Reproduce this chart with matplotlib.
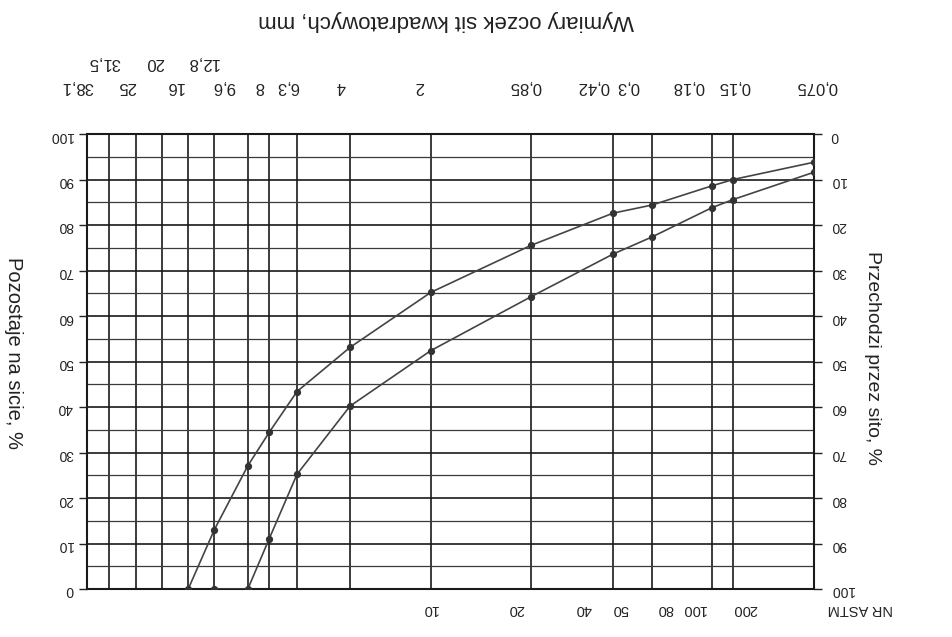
import matplotlib
matplotlib.use('Agg')
import matplotlib.pyplot as plt
from matplotlib.ticker import MultipleLocator, NullFormatter, NullLocator

plt.rcParams['font.family'] = ['Liberation Sans', 'DejaVu Sans']

# sieve openings (mm) and their labels, as printed on the chart
sieve_mm = [0.075, 0.15, 0.18, 0.3, 0.42, 0.85, 2, 4, 6.3, 8, 9.6,
            12.8, 16, 20, 25, 31.5, 38.1]
sieve_labels = ['0,075', '0,15', '0,18', '0,3', '0,42', '0,85', '2', '4',
                '6,3', '8', '9,6', '12,8', '16', '20', '25', '31,5', '38,1']

# ASTM sieve numbers
astm_no = ['200', '100', '80', '50', '40', '20', '10']
astm_mm = [0.075, 0.15, 0.18, 0.3, 0.42, 0.85, 2]

# passing through sieve, %
curve_a_mm = [0.075, 0.15, 0.18, 0.3, 0.42, 0.85, 2, 4, 6.3, 8, 9.6, 12.8, 16]
curve_a = [6.2, 10.0, 11.4, 15.6, 17.4, 24.5, 34.8, 46.9, 56.6, 65.6, 72.9,
           87.0, 100]
curve_b_mm = [0.075, 0.15, 0.18, 0.3, 0.42, 0.85, 2, 4, 6.3, 8, 9.6, 12.8]
curve_b = [8.4, 14.4, 16.2, 22.6, 26.4, 35.8, 47.6, 59.8, 74.8, 89.0, 100, 100]

# layout tweaks for the printed labels (pixels)
upper_row = {'12,8', '20', '31,5'}
top_nudge = [3, 1, -24, -24, -20, -5, -11, -9, -9, -9, -24, -12, -14, -7,
             -9, -5, -10]
astm_nudge = [-69, -40, -47, -32, -30, -15, -1]


def main():
    fig = plt.figure(figsize=(9.53, 6.37), dpi=100)
    ax = fig.add_axes([87 / 953, 1 - 589 / 637, 727 / 953, 455 / 637])
    ax.set_xscale('log')
    ax2 = ax.twinx()

    ax.set_xlim(38.1, 0.075)
    ax.set_ylim(100, 0)

    ax.plot(curve_a_mm, curve_a, color='#444444', lw=1.2, marker='o',
            ms=4.2, mfc='#333333', mec='#333333', zorder=3)
    ax.plot(curve_b_mm, curve_b, color='#444444', lw=1.2, marker='o',
            ms=4.2, mfc='#333333', mec='#333333', zorder=3)

    # grid
    ax.set_xticks(sieve_mm)
    ax.xaxis.set_minor_locator(NullLocator())
    ax.xaxis.set_major_formatter(NullFormatter())
    ax.tick_params(axis='x', length=0)
    ax.yaxis.set_major_locator(MultipleLocator(10))
    ax.yaxis.set_minor_locator(MultipleLocator(5))
    ax.grid(True, which='major', color='#1a1a1a', lw=1.2)
    ax.grid(True, which='minor', axis='y', color='#3a3a3a', lw=0.9)
    for s in ax.spines.values():
        s.set_linewidth(1.5)
        s.set_color('#1a1a1a')

    # right scale: passing
    ax.yaxis.tick_right()
    ax.tick_params(axis='y', which='major', length=6, width=1, pad=6,
                   labelsize=10, labelrotation=180, colors='#222222')
    ax.tick_params(axis='y', which='minor', length=0)

    # left scale: retained
    ax2.set_ylim(0, 100)
    ax2.yaxis.tick_left()
    ax2.yaxis.set_major_locator(MultipleLocator(10))
    ax2.tick_params(axis='y', length=6, width=1, pad=4, labelsize=10,
                    labelrotation=180, colors='#222222')
    for s in ax2.spines.values():
        s.set_visible(False)

    # sieve size labels, two rows above the grid
    for mm, lab, dx in zip(sieve_mm, sieve_labels, top_nudge):
        dy = 71 if lab in upper_row else 47
        ax.annotate(lab, xy=(mm, 1), xycoords=('data', 'axes fraction'),
                    xytext=(dx, dy), textcoords='offset pixels',
                    rotation=180, ha='center', va='center', fontsize=12,
                    color='#222222')

    # ASTM numbers below the grid
    for mm, lab, dx in zip(astm_mm, astm_no, astm_nudge):
        ax.annotate(lab, xy=(mm, 0), xycoords=('data', 'axes fraction'),
                    xytext=(dx, -20), textcoords='offset pixels',
                    rotation=180, ha='center', va='center', fontsize=10.5,
                    color='#222222')
    fig.text(860 / 953, 1 - 609 / 637, 'NR ASTM', rotation=180,
             ha='center', va='center', fontsize=10.5, color='#222222')

    fig.text(446 / 953, 1 - 20 / 637, 'Wymiary oczek sit kwadratowych, mm',
             rotation=180, ha='center', va='center', fontsize=16,
             color='#222222')
    fig.text(13 / 953, 1 - 353 / 637, 'Pozostaje na sicie, %', rotation=270,
             ha='center', va='center', fontsize=14.5, color='#222222')
    fig.text(873 / 953, 1 - 358 / 637, 'Przechodzi przez sito, %',
             rotation=270, ha='center', va='center', fontsize=14,
             color='#222222')

    fig.savefig('out.png', dpi=100)


if __name__ == '__main__':
    main()
